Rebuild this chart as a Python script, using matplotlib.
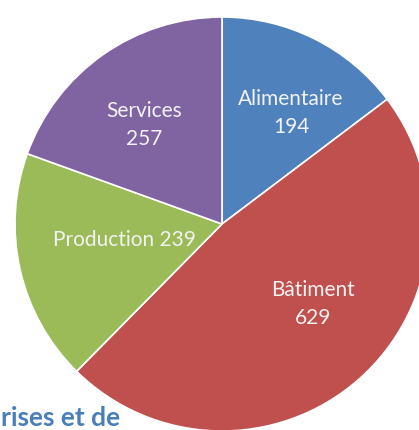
import matplotlib.pyplot as plt

# data
categories = ['Alimentaire', 'Bâtiment', 'Production', 'Services']
values = [194, 629, 239, 257]
colors = ['#4F81BD', '#C0504D', '#9BBB59', '#8064A2']
label_text = ['Alimentaire\n194', 'Bâtiment\n629', 'Production 239', 'Services\n257']

W, H = 419, 430
fig = plt.figure(figsize=(W / 100, H / 100), dpi=100)
ax = fig.add_axes([0, 0, 1, 1])

cx, cy, r = 222, H - 224, 207
ax.pie(values, colors=colors, startangle=90, counterclock=False,
       center=(cx, cy), radius=r, frame=True,
       wedgeprops=dict(edgecolor='white', linewidth=1.2))
ax.set_xlim(0, W)
ax.set_ylim(0, H)
ax.set_aspect('equal')
ax.axis('off')

# label positions (pixels from top-left)
label_pos = [(291, 113), (313, 304), (124, 240), (144, 125)]
for txt, (x, y) in zip(label_text, label_pos):
    ax.text(x, H - y, txt, ha='center', va='center', color='#f2f2f2',
            fontsize=15, family='Lato', linespacing=1.45)

# cropped heading from the surrounding document
ax.text(1, H - 418, 'rises et de', ha='left', va='center', color='#4A7EBB',
        fontsize=19, fontweight='bold', family='Lato')

fig.savefig('out.png', dpi=100)
